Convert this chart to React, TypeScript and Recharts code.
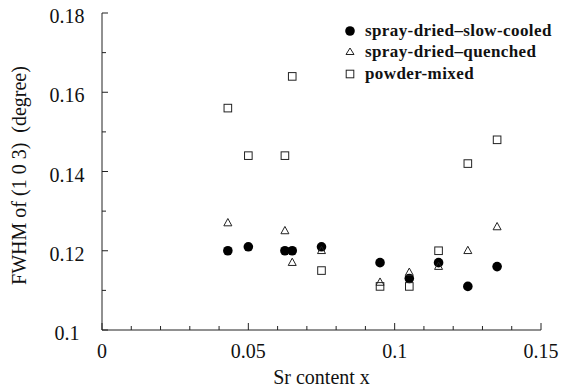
import React from "react";
import { ScatterChart, Scatter, XAxis, YAxis } from "recharts";

const xTicks = [0, 0.01, 0.02, 0.03, 0.04, 0.05, 0.06, 0.07, 0.08, 0.09, 0.1, 0.11, 0.12, 0.13, 0.14, 0.15];
const yTicks = [0.1, 0.11, 0.12, 0.13, 0.14, 0.15, 0.16, 0.17, 0.18];

const slowX = [0.043, 0.05, 0.0625, 0.065, 0.075, 0.095, 0.105, 0.115, 0.125, 0.135];
const slowFwhm = [0.12, 0.121, 0.12, 0.12, 0.121, 0.117, 0.113, 0.117, 0.111, 0.116];

const quenchedX = [0.043, 0.0625, 0.065, 0.075, 0.095, 0.105, 0.115, 0.125, 0.135];
const quenchedFwhm = [0.127, 0.125, 0.117, 0.12, 0.112, 0.1145, 0.116, 0.12, 0.126];

const powderX = [0.043, 0.05, 0.0625, 0.065, 0.075, 0.095, 0.105, 0.115, 0.125, 0.135];
const powderFwhm = [0.156, 0.144, 0.144, 0.164, 0.115, 0.111, 0.111, 0.12, 0.142, 0.148];

const seriesNames = ["spray-dried\u2013slow-cooled", "spray-dried\u2013quenched", "powder-mixed"];

const toPoints = (xs: number[], ys: number[]) => xs.map((x, i) => ({ x, y: ys[i] }));

const INK = "#222";
const SERIF = "'Liberation Serif', 'Times New Roman', serif";

const isMajor = (v: number, step: number, base = 0) =>
  Math.abs((v - base) / step - Math.round((v - base) / step)) < 1e-6;

const fmt = (v: number) => String(Number(v.toFixed(3)));

function BottomTick({ x, y, payload }: any) {
  const major = isMajor(payload.value, 0.05);
  return (
    <g>
      <line x1={x} x2={x} y1={y} y2={y - (major ? 7 : 4)} stroke={INK} />
      {major && (
        <text x={x} y={y + 28} textAnchor="middle" fontFamily={SERIF} fontSize={20} fill="#111">
          {fmt(payload.value)}
        </text>
      )}
    </g>
  );
}

function TopTick({ x, y, payload }: any) {
  const major = isMajor(payload.value, 0.05);
  return <line x1={x} x2={x} y1={y} y2={y + (major ? 7 : 4)} stroke={INK} />;
}

function LeftTick({ x, y, payload }: any) {
  const major = isMajor(payload.value, 0.02, 0.1);
  return (
    <g>
      <line x1={x} x2={x + (major ? 6 : 4)} y1={y} y2={y} stroke={INK} />
      {major && (
        <text x={x - 35} y={y + 10} textAnchor="middle" fontFamily={SERIF} fontSize={20} fill="#111">
          {fmt(payload.value)}
        </text>
      )}
    </g>
  );
}

function RightTick({ x, y, payload }: any) {
  const major = isMajor(payload.value, 0.02, 0.1);
  return <line x1={x} x2={x - (major ? 6 : 4)} y1={y} y2={y} stroke={INK} />;
}

const Dot = ({ cx, cy }: any) => <circle cx={cx} cy={cy} r={4.8} fill="#000" />;
const Tri = ({ cx, cy }: any) => (
  <polygon
    points={`${cx},${cy - 4.5} ${cx - 4},${cy + 2.8} ${cx + 4},${cy + 2.8}`}
    fill="none"
    stroke={INK}
    strokeWidth={1}
  />
);
const Sq = ({ cx, cy }: any) => (
  <rect x={cx - 3.8} y={cy - 3.8} width={7.6} height={7.6} fill="none" stroke={INK} strokeWidth={1} />
);

const icons = [
  <circle cx={6} cy={6} r={4.8} fill="#000" />,
  <polygon points="6,2 2,8.5 10,8.5" fill="none" stroke={INK} />,
  <rect x={2.2} y={2.2} width={7.6} height={7.6} fill="none" stroke={INK} />,
];

function LegendBox() {
  return (
    <div
      style={{
        position: "absolute",
        top: 20,
        left: 344,
        fontFamily: SERIF,
        fontWeight: "bold",
        fontSize: 17,
        letterSpacing: 0.4,
        color: "#111",
        whiteSpace: "nowrap",
      }}
    >
      {seriesNames.map((name, i) => (
        <div key={name} style={{ display: "flex", alignItems: "center", height: 21.5 }}>
          <svg width={12} height={12} style={{ marginRight: 9 }}>
            {icons[i]}
          </svg>
          <span>{name}</span>
        </div>
      ))}
    </div>
  );
}

export default function App() {
  return (
    <div style={{ position: "absolute", left: 0, top: 0, width: 562, height: 387, background: "#fff" }}>
      <ScatterChart width={562} height={387} margin={{ top: 13, right: 21, left: 0, bottom: 0 }}>
        <XAxis
          xAxisId="b"
          type="number"
          dataKey="x"
          domain={[0, 0.15]}
          ticks={xTicks}
          interval={0}
          height={57}
          tickSize={0}
          tickMargin={0}
          tickLine={false}
          axisLine={{ stroke: INK }}
          tick={<BottomTick />}
          label={{
            value: "Sr content x",
            position: "insideBottom",
            offset: 3,
            style: { fontFamily: SERIF, fontSize: 20, fill: "#111" },
          }}
        />
        <XAxis
          xAxisId="t"
          orientation="top"
          type="number"
          dataKey="x"
          domain={[0, 0.15]}
          ticks={xTicks}
          interval={0}
          height={0}
          tickSize={0}
          tickMargin={0}
          tickLine={false}
          axisLine={{ stroke: INK }}
          tick={<TopTick />}
        />
        <YAxis
          yAxisId="l"
          type="number"
          dataKey="y"
          domain={[0.1, 0.18]}
          ticks={yTicks}
          interval={0}
          width={102}
          tickSize={0}
          tickMargin={0}
          tickLine={false}
          axisLine={{ stroke: INK }}
          tick={<LeftTick />}
          label={{
            content: ({ viewBox }: any) => {
              const cx = viewBox.x + 19;
              const cy = viewBox.y + viewBox.height / 2 + 4;
              return (
                <text
                  x={cx}
                  y={cy}
                  transform={`rotate(-90, ${cx}, ${cy})`}
                  textAnchor="middle"
                  dominantBaseline="central"
                  fontFamily={SERIF}
                  fontSize={20}
                  fill="#111"
                  style={{ whiteSpace: "pre" }}
                >
                  {"FWHM of (1 0 3)  (degree)"}
                </text>
              );
            },
          }}
        />
        <YAxis
          yAxisId="r"
          orientation="right"
          type="number"
          dataKey="y"
          domain={[0.1, 0.18]}
          ticks={yTicks}
          interval={0}
          width={0}
          tickSize={0}
          tickMargin={0}
          tickLine={false}
          axisLine={{ stroke: INK }}
          tick={<RightTick />}
        />
        <Scatter
          xAxisId="b"
          yAxisId="l"
          name={seriesNames[0]}
          data={toPoints(slowX, slowFwhm)}
          shape={<Dot />}
          isAnimationActive={false}
        />
        <Scatter
          xAxisId="b"
          yAxisId="l"
          name={seriesNames[1]}
          data={toPoints(quenchedX, quenchedFwhm)}
          shape={<Tri />}
          isAnimationActive={false}
        />
        <Scatter
          xAxisId="b"
          yAxisId="l"
          name={seriesNames[2]}
          data={toPoints(powderX, powderFwhm)}
          shape={<Sq />}
          isAnimationActive={false}
        />
      </ScatterChart>
      <LegendBox />
    </div>
  );
}
